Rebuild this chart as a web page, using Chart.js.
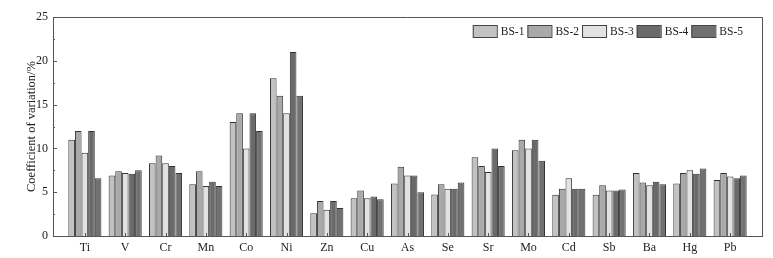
<!DOCTYPE html>
<html>
<head>
<meta charset="utf-8">
<script src="https://cdn.jsdelivr.net/npm/chart.js@4/dist/chart.umd.min.js"></script>
<style>
html,body{margin:0;padding:0;background:#fff;}
#wrap{width:773px;height:258px;position:relative;}
</style>
</head>
<body>
<div id="wrap"><canvas id="c" width="773" height="258"></canvas></div>
<script>
const categories = ["Ti","V","Cr","Mn","Co","Ni","Zn","Cu","As","Se","Sr","Mo","Cd","Sb","Ba","Hg","Pb"];
const seriesNames = ["BS-1","BS-2","BS-3","BS-4","BS-5"];
const bs1 = [11.0, 6.9, 8.3, 5.9, 13.0, 18.0, 2.6, 4.3, 6.0, 4.75, 9.0, 9.8, 4.7, 4.7, 7.2, 6.0, 6.4];
const bs2 = [12.0, 7.4, 9.2, 7.4, 14.0, 16.0, 4.0, 5.2, 7.9, 5.9, 8.0, 11.0, 5.4, 5.8, 6.1, 7.2, 7.2];
const bs3 = [9.5, 7.2, 8.3, 5.7, 10.0, 14.0, 3.0, 4.3, 6.9, 5.4, 7.3, 10.0, 6.6, 5.2, 5.8, 7.5, 6.8];
const bs4 = [12.0, 7.1, 8.0, 6.2, 14.0, 21.0, 4.0, 4.5, 6.9, 5.4, 10.0, 11.0, 5.4, 5.2, 6.2, 7.1, 6.6];
const bs5 = [6.6, 7.5, 7.2, 5.7, 12.0, 16.0, 3.2, 4.2, 5.0, 6.1, 8.0, 8.6, 5.4, 5.3, 5.9, 7.7, 6.9];
const yTicks = [0,5,10,15,20,25];

const colors = ["#c2c2c2","#a9a9a9","#e2e2e2","#6a6a6a","#717171"];
const series = [bs1,bs2,bs3,bs4,bs5];
const serif = "'Liberation Serif','DejaVu Serif',serif";

const frame = {
  id:'frame',
  afterDraw(chart){
    const {ctx, chartArea:a, scales} = chart;
    ctx.save();
    ctx.strokeStyle = '#555';
    ctx.lineWidth = 1;
    ctx.beginPath();
    ctx.moveTo(a.left, a.top+0.5); ctx.lineTo(a.right+0.5, a.top+0.5); ctx.lineTo(a.right+0.5, a.bottom);
    ctx.stroke();
    const y = scales.y;
    ctx.beginPath();
    for (let v=0; v<=25; v+=2.5){
      const py = Math.round(y.getPixelForValue(v))+0.5;
      const len = (v%5===0)?4:2;
      ctx.moveTo(a.left, py); ctx.lineTo(a.left+len, py);
    }
    const x = scales.x;
    for (let i=0;i<categories.length;i++){
      const px = Math.round(x.getPixelForValue(i))+0.5;
      ctx.moveTo(px, a.bottom); ctx.lineTo(px, a.bottom-3);
    }
    ctx.stroke();
    // legend inside plot, top right
    ctx.font = "11.5px " + serif;
    ctx.textBaseline = 'middle';
    ctx.textAlign = 'left';
    const items = chart.data.datasets.map(d=>({label:d.label, color:d.backgroundColor, w: ctx.measureText(d.label).width}));
    const boxW = 24, boxH = 12, gapT = 4, gapI = 3;
    let total = 0;
    items.forEach((it,i)=>{ total += boxW + gapT + it.w + (i<items.length-1?gapI:0); });
    let lx = a.right - 19 - total;
    const cy = a.top + 14;
    items.forEach(it=>{
      ctx.fillStyle = it.color;
      ctx.fillRect(lx, cy-boxH/2, boxW, boxH);
      ctx.strokeStyle = '#444';
      ctx.strokeRect(lx+0.5, cy-boxH/2+0.5, boxW, boxH);
      ctx.fillStyle = '#222';
      ctx.fillText(it.label, lx + boxW + gapT, cy+1);
      lx += boxW + gapT + it.w + gapI;
    });
    ctx.restore();
  }
};

new Chart(document.getElementById('c'), {
  type:'bar',
  data:{
    datasets: series.map((s,k)=>({
      label: seriesNames[k],
      data: s.map((v,i)=>({x:i,y:v})),
      backgroundColor: colors[k],
      borderColor:'#333',
      borderWidth:1,
      categoryPercentage:0.82,
      barPercentage:1.0
    }))
  },
  plugins:[frame],
  options:{
    responsive:false,
    animation:false,
    layout:{padding:{top:17,right:11,left:0,bottom:0}},
    plugins:{
      legend:{display:false},
      tooltip:{enabled:false}
    },
    scales:{
      x:{
        type:'linear',
        min:-0.79, max:16.79,
        offset:false,
        grid:{display:false, drawTicks:false},
        border:{display:true,color:'#555',width:1},
        afterBuildTicks(scale){ scale.ticks = categories.map((c,i)=>({value:i})); },
        afterFit(scale){ scale.height = 22; },
        ticks:{
          autoSkip:false, maxRotation:0,
          padding:5,
          color:'#222',
          font:{family:serif,size:12},
          callback:(v)=>categories[v] ?? ''
        }
      },
      y:{
        min:0,max:25,
        afterBuildTicks(scale){ scale.ticks = yTicks.map(v=>({value:v})); },
        afterFit(scale){ scale.width = 53; },
        grid:{display:false, drawTicks:false},
        border:{display:true,color:'#555',width:1},
        ticks:{
          padding:5,
          color:'#222',
          font:{family:serif,size:12}
        },
        title:{
          display:true,
          text:'Coefficient of variation/%',
          color:'#222',
          font:{family:serif,size:12.5},
          padding:{top:24,bottom:0}
        }
      }
    }
  }
});
</script>
</body>
</html>
